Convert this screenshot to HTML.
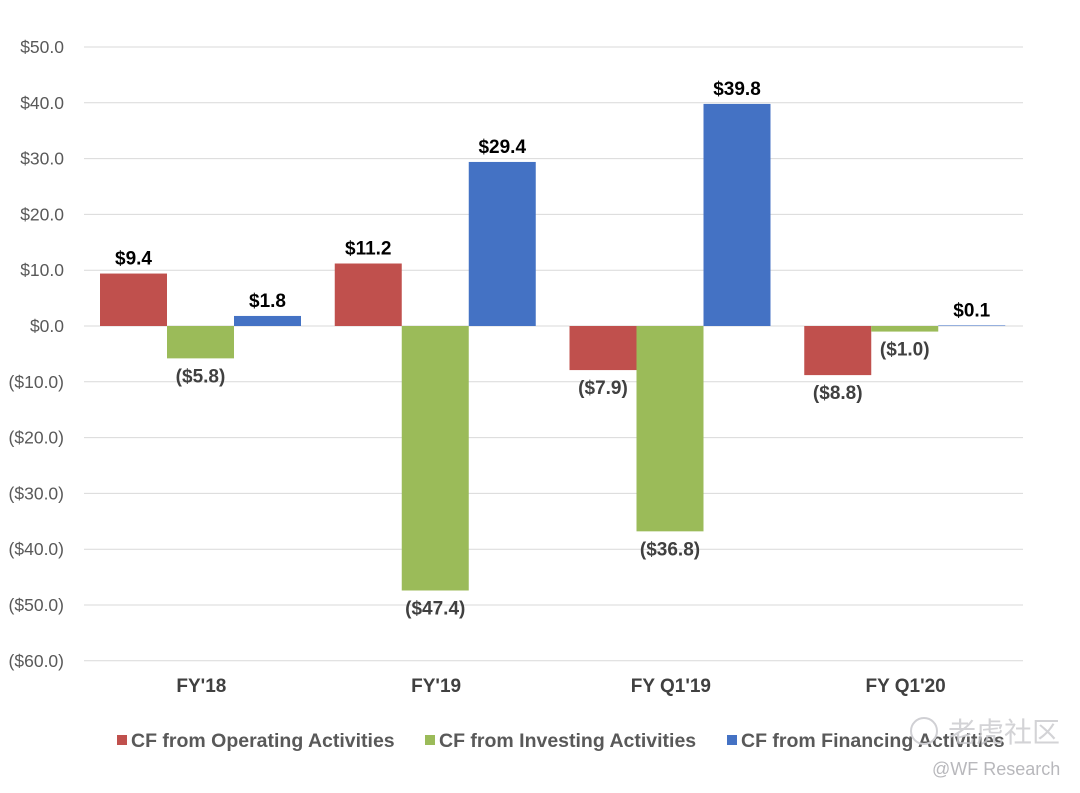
<!DOCTYPE html>
<html><head><meta charset="utf-8"><style>
body{margin:0;background:#fff;font-family:"Liberation Sans",Arial,sans-serif}
svg{display:block}
</style></head><body>
<svg id="chart" width="1080" height="793" font-family="Liberation Sans, Noto Sans CJK SC, sans-serif"></svg>
<script>
const categories=["FY'18","FY'19","FY Q1'19","FY Q1'20"];
const operating=[9.4,11.2,-7.9,-8.8];
const investing=[-5.8,-47.4,-36.8,-1.0];
const financing=[1.8,29.4,39.8,0.1];
const yTicks=[50,40,30,20,10,0,-10,-20,-30,-40,-50,-60];
const seriesNames=["CF from Operating Activities","CF from Investing Activities","CF from Financing Activities"];
const colors=["#c0504d","#9bbb59","#4472c4"];
const NS="http://www.w3.org/2000/svg";
const svg=document.getElementById('chart');
const L=84,R=1023;
function y(v){return 326-v*5.58;}
const cw=(R-L)/categories.length;
function mk(t,a,p){const e=document.createElementNS(NS,t);for(const k in a)e.setAttribute(k,a[k]);(p||svg).appendChild(e);return e;}
function fmt(v){return v<0?"($"+Math.abs(v).toFixed(1)+")":"$"+v.toFixed(1);}
yTicks.forEach(t=>{
 const g=mk('line',{x1:L,x2:R,y1:y(t),y2:y(t),stroke:'#d9d9d9','stroke-width':1});
 
 
 const tx=mk('text',{x:64,y:y(t)+6,'text-anchor':'end','font-size':17.5,fill:'#595959'});
 tx.textContent=fmt(t);
 
 
});
const series=[operating,investing,financing];
categories.forEach((c,i)=>{
 const x0=L+i*cw+16;
 series.forEach((s,j)=>{
  const v=s[i];const bx=x0+j*67;
  const r=mk('rect',{x:bx,y:Math.min(y(v),y(0)),width:67,height:Math.abs(y(v)-y(0)),fill:colors[j]});
  
  
  const lbl=mk('text',{x:bx+33.5,y:v>=0?y(v)-9:y(v)+24,'text-anchor':'middle','font-size':19,'font-weight':'bold',fill:v>=0?'#000':'#404040'});
  lbl.textContent=fmt(v);
  
  
 });
 const ct=mk('text',{x:L+i*cw+cw/2,y:692,'text-anchor':'middle','font-size':19,'font-weight':'bold',fill:'#404040'});
 ct.textContent=c;
 
 
});
const lx=[117,425,727];
seriesNames.forEach((n,j)=>{
 const s=mk('rect',{x:lx[j],y:735,width:10,height:10,fill:colors[j]});
 
 
 const t=mk('text',{x:lx[j]+14,y:747,'font-size':19.5,'font-weight':'bold',fill:'#595959'});
 t.textContent=n;
 
 
});
const w1=mk('text',{x:948,y:742,'font-size':28,fill:'#c8c8cc','fill-opacity':0.8});
w1.textContent="老虎社区";


const wc=mk('circle',{cx:924,cy:731,r:13,fill:'none',stroke:'#d0d0d4','stroke-width':2});


const w2=mk('text',{x:932,y:775,'font-size':18,fill:'#b8b8bc'});
w2.textContent="@WF Research";


</script>
</body></html>
